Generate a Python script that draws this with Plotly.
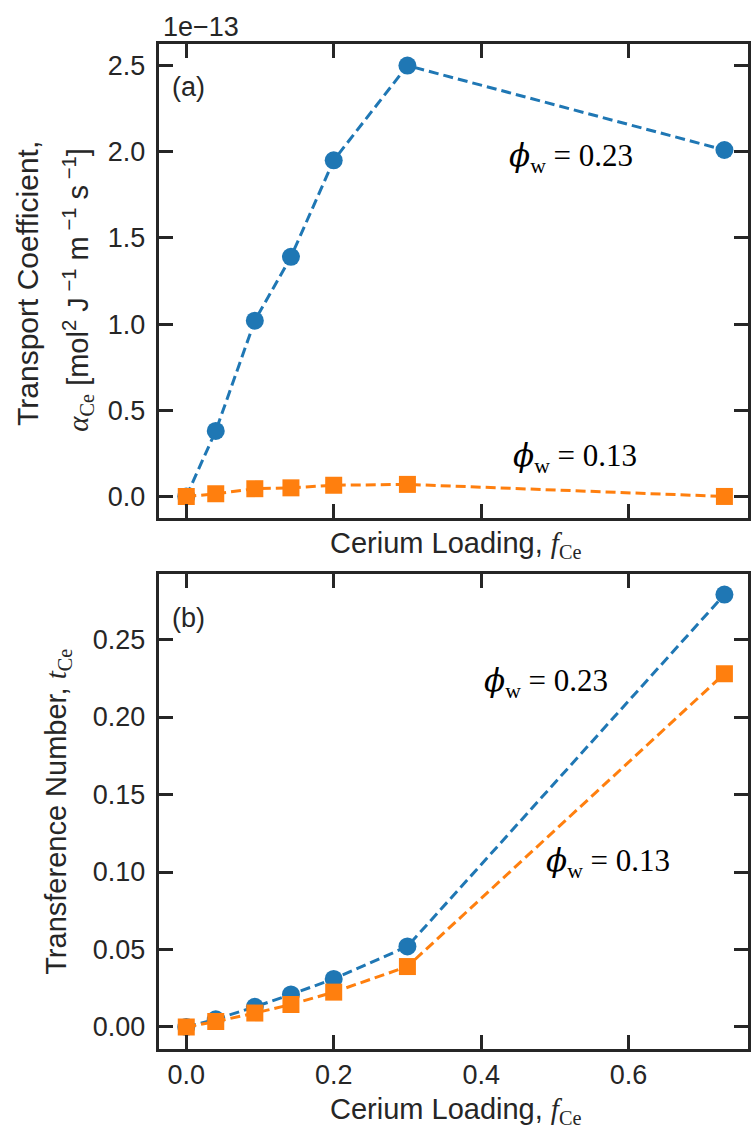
import plotly.graph_objects as go

# ---- data ----
f_ce = [0.0, 0.04, 0.093, 0.142, 0.2, 0.3, 0.73]
alpha_023 = [0.0, 0.38e-13, 1.02e-13, 1.39e-13, 1.95e-13, 2.50e-13, 2.01e-13]
alpha_013 = [0.0, 0.015e-13, 0.045e-13, 0.05e-13, 0.065e-13, 0.07e-13, 0.0]
t_023 = [0.0, 0.005, 0.013, 0.021, 0.031, 0.052, 0.279]
t_013 = [0.0, 0.0035, 0.009, 0.0145, 0.0225, 0.039, 0.228]
x_ticks = [0.0, 0.2, 0.4, 0.6]
x_ticklabels = ["0.0", "0.2", "0.4", "0.6"]
y1_ticks = [0.0, 0.5, 1.0, 1.5, 2.0, 2.5]
y2_ticks = [0.0, 0.05, 0.10, 0.15, 0.20, 0.25]
scale = 1e-13

BLUE = "#1f77b4"
ORANGE = "#ff7f0e"
INK = "#262626"
SANS = "Liberation Sans, Arial, sans-serif"
SERIF = "Liberation Serif, DejaVu Serif, serif"
TICK_SIZE = 27
TITLE_SIZE = 29

fig = go.Figure()

def add_series(x, y, color, symbol, size, xa, ya):
    fig.add_trace(go.Scatter(
        x=x, y=y, mode="lines+markers", xaxis=xa, yaxis=ya,
        line=dict(color=color, width=3, dash="10px,5px"),
        marker=dict(color=color, symbol=symbol, size=size, line=dict(width=0)),
        showlegend=False, hoverinfo="skip"))

add_series(f_ce, [v / scale for v in alpha_023], BLUE, "circle", 18, "x", "y")
add_series(f_ce, [v / scale for v in alpha_013], ORANGE, "square", 17, "x", "y")
add_series(f_ce, t_023, BLUE, "circle", 18, "x2", "y2")
add_series(f_ce, t_013, ORANGE, "square", 17, "x2", "y2")

W, H = 751, 1129
xdom = [160 / W, 1.0]
y1dom = [1 - 518 / H, 1 - 44 / H]
y2dom = [1 - 1049 / H, 1 - 574 / H]
xrange_ = [-0.0365, 0.762]

axis_common = dict(
    showline=True, linecolor=INK, linewidth=2.5, mirror="ticks",
    ticks="inside", ticklen=14, tickwidth=2.5, tickcolor=INK,
    showgrid=False, zeroline=False,
    tickfont=dict(family=SANS, size=TICK_SIZE, color=INK),
)

fig.update_layout(
    width=W, height=H,
    margin=dict(l=0, r=0, t=0, b=0),
    paper_bgcolor="white", plot_bgcolor="white",
    xaxis=dict(domain=xdom, range=xrange_, anchor="y", tickvals=x_ticks,
               showticklabels=False, **axis_common),
    yaxis=dict(domain=y1dom, range=[-0.125, 2.625], anchor="x", tickvals=y1_ticks,
               ticktext=[f"{v:.1f}" for v in y1_ticks], ticklabelstandoff=6, **axis_common),
    xaxis2=dict(domain=xdom, range=xrange_, anchor="y2", tickvals=x_ticks,
                ticktext=x_ticklabels, ticklabelstandoff=0, **axis_common),
    yaxis2=dict(domain=y2dom, range=[-0.0142, 0.2923], anchor="x2", tickvals=y2_ticks,
                ticktext=[f"{v:.2f}" for v in y2_ticks], ticklabelstandoff=6, **axis_common),
)

def px_x(p):
    return p / W

def px_y(p):
    return 1 - p / H

ann = []
xtitle = "Cerium Loading, " + f"<span style='font-family:{SERIF}'><i>f</i><sub>Ce</sub></span>"
ann.append(dict(x=px_x(457), y=px_y(545), text=xtitle, font=dict(family=SANS, size=TITLE_SIZE, color=INK)))
ann.append(dict(x=px_x(457), y=px_y(1111), text=xtitle, font=dict(family=SANS, size=TITLE_SIZE, color=INK)))
ann.append(dict(x=px_x(27), y=px_y(283), text="Transport Coefficient,", textangle=-90,
                font=dict(family=SANS, size=TITLE_SIZE + 1, color=INK)))
ann.append(dict(x=px_x(78), y=px_y(290),
                text=f"<span style='font-family:{SERIF}'><i>α</i><sub>Ce</sub></span> [mol<sup>2</sup> J<sup> −1</sup> m<sup> −1</sup> s<sup> −1</sup>]",
                textangle=-90, font=dict(family=SANS, size=TITLE_SIZE, color=INK)))
ann.append(dict(x=px_x(58), y=px_y(812),
                text="Transference Number, " + f"<span style='font-family:{SERIF}'><i>t</i><sub>Ce</sub></span>",
                textangle=-90, font=dict(family=SANS, size=TITLE_SIZE, color=INK)))
ann.append(dict(x=px_x(202), y=px_y(27), text="1e−13", font=dict(family=SANS, size=TICK_SIZE, color=INK)))
ann.append(dict(x=px_x(189), y=px_y(87), text="(a)", font=dict(family=SANS, size=TICK_SIZE, color=INK)))
ann.append(dict(x=px_x(189), y=px_y(618), text="(b)", font=dict(family=SANS, size=TICK_SIZE, color=INK)))

def phi(val):
    return ("<span style='font-family:DejaVu Serif'><i>ϕ</i></span><sub>w</sub> = " + val)

for (xx, yy, v) in [(573, 157, "0.23"), (577, 457, "0.13"), (548, 682, "0.23"), (610, 862, "0.13")]:
    ann.append(dict(x=px_x(xx), y=px_y(yy), text=phi(v), font=dict(family=SERIF, size=31, color="black")))

for a in ann:
    a.update(xref="paper", yref="paper", showarrow=False, xanchor="center", yanchor="middle")
fig.update_layout(annotations=ann)

fig.write_html("out.html")
